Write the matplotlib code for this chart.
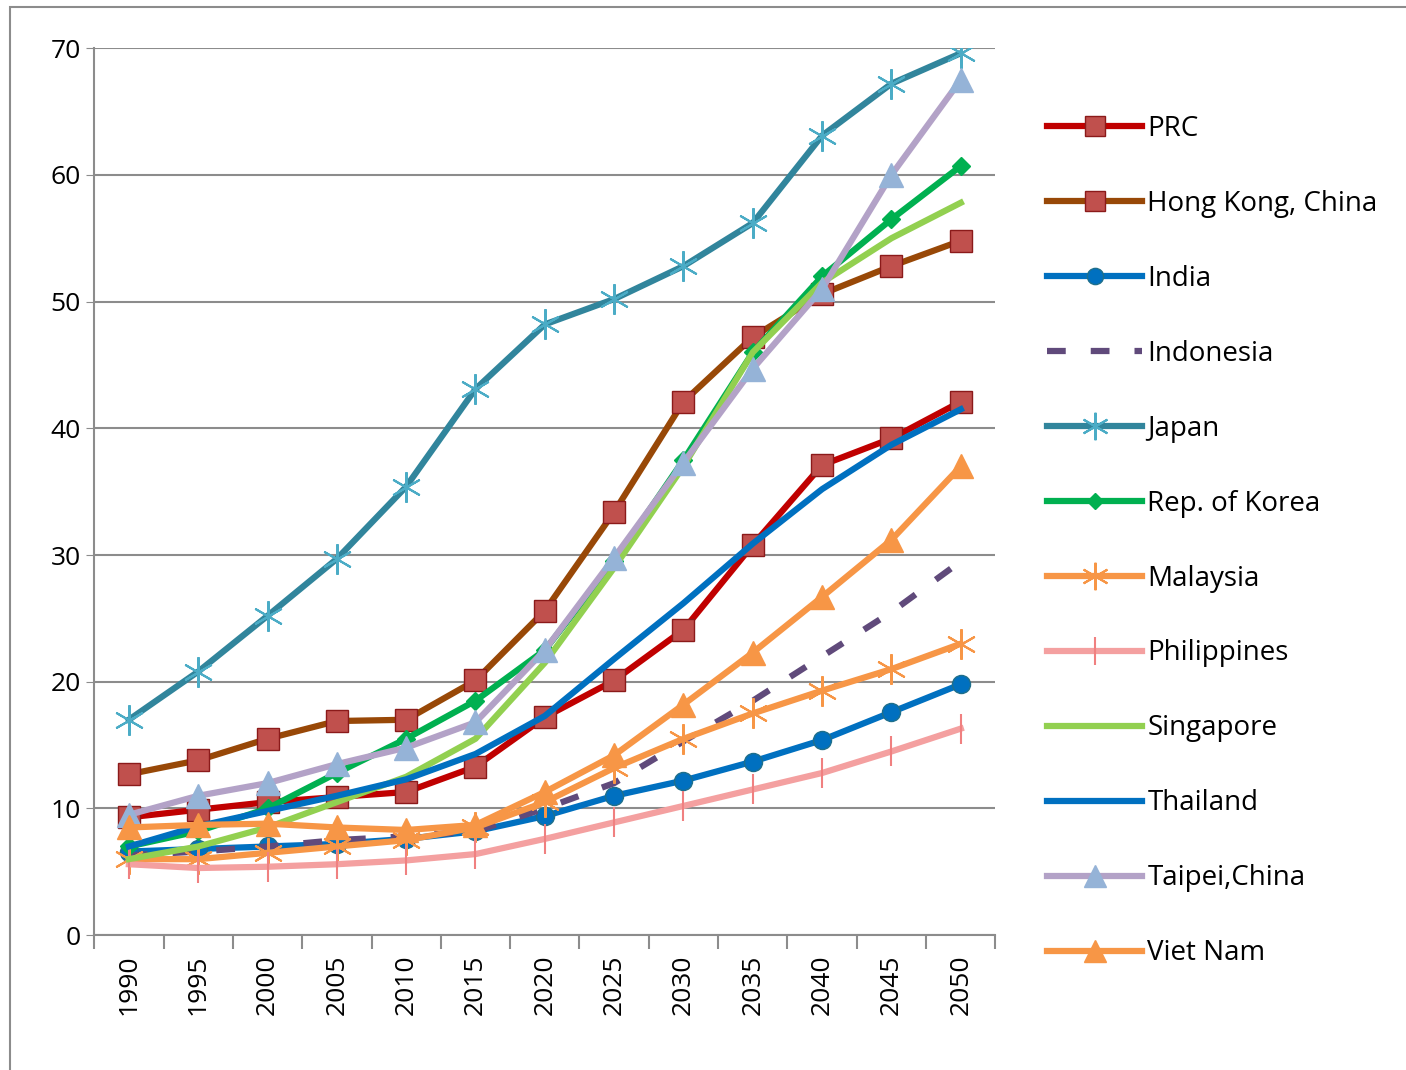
import numpy as np
import matplotlib.pyplot as plt
from matplotlib.patches import Rectangle

# # Data
years = ["1990", "1995", "2000", "2005", "2010", "2015", "2020",
         "2025", "2030", "2035", "2040", "2045", "2050"]

prc = [9.3, 9.9, 10.5, 10.9, 11.3, 13.3, 17.2, 20.1, 24.1, 30.8, 37.1, 39.2, 42.1]
hong_kong = [12.7, 13.8, 15.5, 16.9, 17.0, 20.1, 25.6, 33.4, 42.1, 47.2, 50.6, 52.8, 54.8]
india = [6.6, 6.8, 7.0, 7.2, 7.6, 8.2, 9.4, 11.0, 12.2, 13.7, 15.4, 17.6, 19.8]
indonesia = [6.3, 6.6, 7.0, 7.5, 7.8, 8.2, 10.0, 12.0, 15.3, 18.5, 22.0, 25.5, 29.5]
japan = [17.0, 20.8, 25.2, 29.7, 35.4, 43.1, 48.2, 50.2, 52.8, 56.2, 63.1, 67.2, 69.6]
korea = [7.0, 8.2, 10.0, 12.8, 15.5, 18.5, 22.5, 29.5, 37.5, 46.0, 52.0, 56.5, 60.7]
malaysia = [6.0, 6.0, 6.5, 7.0, 7.5, 8.5, 10.5, 13.2, 15.5, 17.5, 19.3, 21.0, 23.0]
philippines = [5.6, 5.3, 5.4, 5.6, 5.9, 6.4, 7.6, 8.9, 10.2, 11.5, 12.8, 14.5, 16.3]
singapore = [6.0, 7.0, 8.5, 10.5, 12.5, 15.5, 21.5, 29.0, 37.0, 46.0, 51.5, 55.0, 57.8]
thailand = [7.0, 8.6, 9.8, 11.0, 12.3, 14.3, 17.3, 21.8, 26.2, 30.9, 35.2, 38.7, 41.5]
taipei = [9.5, 11.0, 12.0, 13.5, 14.8, 16.8, 22.5, 29.8, 37.3, 44.7, 51.0, 60.0, 67.5]
viet_nam = [8.5, 8.7, 8.8, 8.5, 8.3, 8.7, 11.3, 14.2, 18.2, 22.3, 26.7, 31.2, 37.0]

x = np.arange(len(years))

fig = plt.figure(figsize=(14.06, 10.70), dpi=100)
plt.rcParams['font.family'] = ['Open Sans', 'DejaVu Sans']

# outer chart border
fig.patches.append(Rectangle((0.007, -0.01), 1.0, 1.003, transform=fig.transFigure,
                             fill=False, edgecolor='#8c8c8c', linewidth=1.5))

ax = fig.add_axes([0.067, 0.126, 0.641, 0.829])

lw = 4.5
# # Series
ax.plot(x, prc, color='#C00000', lw=lw, marker='s', ms=16, mfc='#C0504D', mec='#8B1A1A', label="PRC")
ax.plot(x, hong_kong, color='#984807', lw=lw, marker='s', ms=16, mfc='#C0504D', mec='#8B1A1A', label="Hong Kong, China")
ax.plot(x, india, color='#0070C0', lw=lw, marker='o', ms=13, mfc='#0070C0', mec='#1F6F8B', label="India")
ax.plot(x, indonesia, color='#604A7B', lw=lw, ls=(0, (3, 4)), label="Indonesia")
ax.plot(x, japan, color='#31859C', lw=lw, marker=(6, 2, 0), ms=22, mec='#4BACC6', mew=1.5, label="Japan")
ax.plot(x, korea, color='#00B050', lw=lw, marker='D', ms=9, mfc='#00B050', mec='#00B050', label="Rep. of Korea")
ax.plot(x, malaysia, color='#F79646', lw=lw, marker=(6, 2, 0), ms=22, mec='#F79646', mew=1.5, label="Malaysia")
ax.plot(x, philippines, color='#F4A0A0', lw=lw, marker='|', ms=22, mec='#F08080', mew=1.5, label="Philippines")
ax.plot(x, singapore, color='#92D050', lw=lw, label="Singapore")
ax.plot(x, thailand, color='#0070C0', lw=lw, label="Thailand")
ax.plot(x, taipei, color='#B3A2C7', lw=lw, marker='^', ms=17, mfc='#95B3D7', mec='#95B3D7', label="Taipei,China")
ax.plot(x, viet_nam, color='#F79646', lw=lw, marker='^', ms=17, mfc='#F79646', mec='#F79646', label="Viet Nam")

# # Axes styling (Excel look)
ax.set_ylim(0, 70)
ax.set_xlim(-0.5, len(years) - 0.5)
ax.set_yticks(np.arange(0, 71, 10))
ax.set_xticks(x)
ax.set_xticklabels(years, rotation=90, fontsize=19)
ax.tick_params(axis='y', labelsize=19, length=6, color='#8c8c8c')
ax.tick_params(axis='x', length=0, pad=14)
ax.set_xticks(np.arange(-0.5, len(years), 1), minor=True)
ax.tick_params(axis='x', which='minor', length=10, color='#8c8c8c', width=1.5)
ax.yaxis.grid(True, color='#8c8c8c', lw=1.5)
ax.set_axisbelow(True)
for side in ['top', 'right']:
    ax.spines[side].set_visible(False)
ax.spines['left'].set_color('#8c8c8c')
ax.spines['bottom'].set_color('#8c8c8c')
ax.spines['left'].set_linewidth(1.5)
ax.spines['bottom'].set_linewidth(1.5)

leg = ax.legend(loc='upper left', bbox_to_anchor=(1.03, 0.953), frameon=False,
                fontsize=20, handlelength=3.4, labelspacing=1.69, handletextpad=0.2,
                markerscale=0.9)

fig.savefig("out.png", dpi=100)
